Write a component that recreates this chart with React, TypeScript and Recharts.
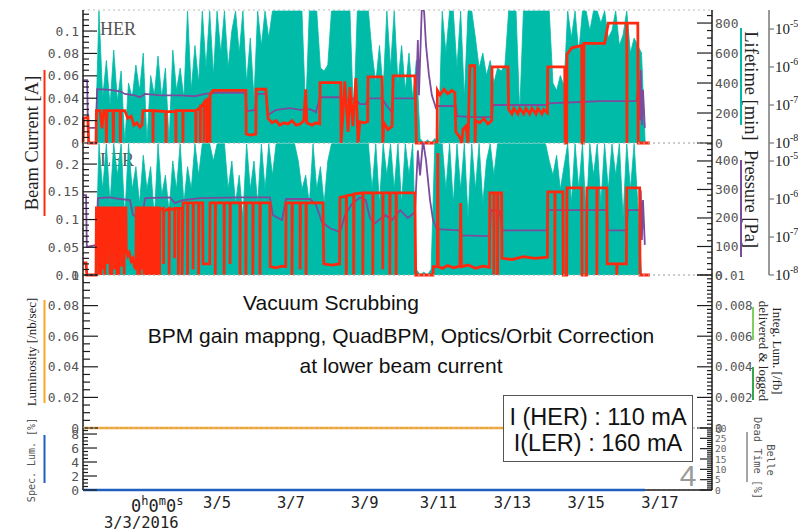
import React from 'react';
import { ComposedChart, Line, Area, XAxis, YAxis, CartesianGrid } from 'recharts';

const TEAL = '#00BBA7';
const PURPLE = '#7B4C9E';
const RED = '#FF2A0E';
const ORANGE = '#F5A62A';
const BLUE = '#1F5FBE';
const GREEN_LIGHT = '#7FD05C';
const GREEN_DARK = '#36A64F';
const INK = '#1c1c1c';
const GRID = '#bcbcbc';

// time axis: days counted from 2016-03-03 00:00
const DAY_DOMAIN = [-1.633, 15.41];
const DAY_MAJOR = [0, 2, 4, 6, 8, 10, 12, 14];
const DAY_LABELS = ['0h0m0s', '3/5', '3/7', '3/9', '3/11', '3/13', '3/15', '3/17'];
const START_DATE = '3/3/2016';

const range = (lo: number, hi: number, step: number) =>
  Array.from({ length: Math.round((hi - lo) / step) + 1 }, (_, i) => +(lo + i * step).toFixed(6));

const DAY_MINOR = range(-1.5, 15, 0.5);

// axis ticks (major = labelled)
const HER_CUR_MAJOR = [0, 0.02, 0.04, 0.06, 0.08, 0.1];
const HER_LIFE_MAJOR = [0, 200, 400, 600, 800];
const LER_CUR_MAJOR = [0, 0.05, 0.1, 0.15, 0.2];
const LER_LIFE_MAJOR = [0, 100, 200, 300, 400];
const PRESSURE_TICKS = [1e-8, 1e-7, 1e-6, 1e-5];
const LUM_MAJOR = [0, 0.02, 0.04, 0.06, 0.08, 0.1];
const INTEG_MAJOR = [0, 0.002, 0.004, 0.006, 0.008, 0.01];
const SPEC_MAJOR = [0, 2, 4, 6, 8];
const DEAD_MAJOR = [0, 5, 10, 15, 20, 25, 30];

// beam lifetime [min], sampled every 0.1 day starting at day -1.3
const LIFE_T0 = -1.3;
const LIFE_DT = 0.1;
const HER_LIFETIME = [
  0, 880, 300, 550, 250, 620, 280, 480, 0, 400,
  300, 520, 350, 600, 0, 450, 320, 580, 300, 500,
  0, 620, 350, 500, 300, 880, 350, 650, 400, 880,
  500, 880, 450, 880, 600, 880, 500, 750, 880, 600,
  880, 400, 700, 300, 880, 650, 880, 700, 880, 880,
  880, 880, 880, 880, 880, 880, 880, 200, 880, 880,
  880, 500, 480, 520, 880, 880, 880, 880, 880, 880,
  150, 880, 880, 880, 880, 600, 400, 650, 350, 880,
  500, 880, 400, 650, 350, 600, 300, 550, 30, 0,
  20, 0, 30, 0, 880, 600, 880, 880, 500, 880,
  300, 880, 880, 700, 500, 600, 450, 550, 400, 500,
  480, 520, 880, 880, 880, 200, 880, 880, 880, 880,
  880, 880, 880, 880, 400, 350, 450, 380, 880, 700,
  880, 600, 880, 880, 750, 880, 880, 800, 880, 700,
  750, 880, 650, 720, 880, 600, 700, 650, 600, 0,
  0,
];
const LER_LIFETIME = [
  0, 460, 300, 460, 250, 460, 350, 460, 200, 460,
  300, 380, 250, 420, 300, 380, 200, 460, 280, 350,
  220, 400, 300, 460, 250, 380, 300, 460, 350, 460,
  460, 460, 400, 460, 460, 460, 300, 400, 250, 350,
  200, 460, 300, 400, 250, 460, 300, 460, 350, 460,
  460, 460, 460, 460, 460, 400, 300, 350, 250, 460,
  300, 380, 250, 400, 460, 460, 460, 460, 460, 460,
  460, 460, 460, 460, 460, 300, 460, 250, 460, 350,
  460, 300, 460, 250, 460, 350, 460, 20, 0, 10,
  0, 20, 460, 460, 460, 300, 460, 250, 460, 300,
  460, 200, 460, 300, 460, 250, 400, 460, 350, 460,
  460, 460, 460, 460, 460, 460, 460, 460, 460, 460,
  460, 460, 460, 400, 350, 420, 300, 380, 460, 250,
  460, 300, 460, 200, 460, 350, 460, 250, 460, 300,
  460, 350, 460, 200, 460, 300, 460, 250, 0, 0,
  0,
];

// beam current [A]: [day, value]
const HER_CURRENT = [
  [-1.63, 0], [-1.62, 0.022], [-1.5, 0.023], [-1.48, 0], [-1.28, 0], [-1.27, 0.029], [-1.17, 0.029],
  [-1.12, 0.013], [-1.07, 0.029], [-1.01, 0.029], [-1.0, 0], [-0.98, 0.029], [-0.82, 0.029], [-0.81, 0],
  [-0.8, 0.029], [-0.63, 0.029], [-0.62, 0], [-0.61, 0.029], [-0.5, 0.029], [-0.42, 0.022], [-0.33, 0.024],
  [-0.25, 0.016], [-0.17, 0.018], [-0.09, 0.014], [-0.035, 0.016], [-0.01, 0.029], [0.26, 0.029], [0.265, 0],
  [0.27, 0.029], [0.61, 0.028], [0.615, 0], [0.62, 0.028], [0.88, 0.028], [0.885, 0], [0.89, 0.029],
  [1.07, 0.029], [1.075, 0], [1.08, 0.029], [1.42, 0.029], [1.425, 0], [1.43, 0.029], [1.48, 0.03],
  [1.54, 0.032], [1.545, 0], [1.55, 0.033], [1.59, 0.033], [1.645, 0.036], [1.65, 0], [1.655, 0.036],
  [1.73, 0.038], [1.735, 0], [1.74, 0.039], [1.8, 0.041], [1.805, 0], [1.81, 0.043], [1.85, 0.045],
  [1.89, 0.047], [2.78, 0.047], [2.79, 0.008], [2.9, 0.007], [3.05, 0.008], [3.06, 0.048], [3.32, 0.048],
  [3.38, 0.022], [3.49, 0.018], [3.6, 0.02], [3.7, 0.016], [3.81, 0.018], [3.92, 0.017], [4.03, 0.02],
  [4.14, 0.016], [4.25, 0.017], [4.35, 0.02], [4.4, 0.048], [4.43, 0.018], [4.57, 0.016], [4.68, 0.018],
  [4.78, 0.017], [4.79, 0.054], [5.35, 0.054], [5.36, 0], [5.4, 0.02], [5.46, 0.055], [5.55, 0.01],
  [5.6, 0.05], [5.68, 0.015], [5.76, 0.058], [5.82, 0], [5.87, 0.019], [5.98, 0.018], [6.08, 0.019],
  [6.09, 0.059], [6.47, 0.059], [6.49, 0], [6.52, 0.018], [6.63, 0.012], [6.74, 0.015], [6.77, 0.06],
  [7.36, 0.06], [7.4, 0], [7.96, 0], [7.97, 0.047], [8.04, 0.043], [8.15, 0.048], [8.25, 0.044],
  [8.36, 0.047], [8.44, 0.045], [8.47, 0.01], [8.58, 0.005], [8.63, 0], [8.66, 0.012], [8.74, 0.015],
  [8.8, 0], [8.85, 0.069], [8.98, 0.069], [8.99, 0], [9.01, 0.02], [9.12, 0.018], [9.23, 0.022],
  [9.34, 0.017], [9.44, 0.02], [9.45, 0.068], [9.88, 0.068], [9.9, 0.03], [9.99, 0.026], [10.04, 0.031],
  [10.15, 0.026], [10.2, 0.031], [10.31, 0.026], [10.37, 0.031], [10.47, 0.026], [10.53, 0.031],
  [10.64, 0.026], [10.69, 0.031], [10.8, 0.026], [10.85, 0.03], [10.95, 0.027], [10.96, 0.068],
  [11.42, 0.068], [11.43, 0], [11.47, 0], [11.48, 0.079], [11.61, 0.085], [11.88, 0.087], [11.89, 0],
  [11.93, 0], [11.94, 0.089], [12.5, 0.089], [12.6, 0.107], [13.1, 0.107], [13.105, 0], [13.11, 0.107],
  [13.4, 0.107], [13.41, 0], [13.73, 0],
];

const LER_CURRENT = [
  [-1.63, 0.022], [-1.55, 0.022], [-1.53, 0], [-1.28, 0], [-1.27, 0.121],
  [-1.2, 0.121], [-1.2, 0], [-1.19, 0.121], [-1.15, 0.121], [-1.15, 0], [-1.14, 0.121],
  [-1.09, 0.121], [-1.09, 0.01], [-1.08, 0.121], [-1.04, 0.121], [-1.04, 0], [-1.03, 0.121],
  [-0.98, 0.121], [-0.98, 0.02], [-0.97, 0.121], [-0.9, 0.121], [-0.9, 0], [-0.89, 0.121],
  [-0.85, 0.121], [-0.85, 0], [-0.84, 0.121], [-0.77, 0.121], [-0.77, 0.01], [-0.76, 0.121],
  [-0.71, 0.121], [-0.71, 0], [-0.7, 0.121], [-0.66, 0.121], [-0.66, 0], [-0.65, 0.121],
  [-0.58, 0.121], [-0.58, 0.015], [-0.57, 0.121], [-0.52, 0.121], [-0.52, 0], [-0.51, 0.121],
  [-0.47, 0.121], [-0.46, 0.045], [-0.42, 0.035], [-0.38, 0.04], [-0.33, 0.025], [-0.28, 0.03],
  [-0.24, 0.015], [-0.2, 0.01], [-0.19, 0.121], [-0.15, 0.121], [-0.15, 0], [-0.14, 0.121],
  [-0.09, 0.121], [-0.09, 0], [-0.08, 0.121], [-0.04, 0.121], [-0.04, 0.01], [-0.03, 0.121],
  [0.02, 0.121], [0.02, 0], [0.03, 0.121], [0.08, 0.121], [0.08, 0], [0.09, 0.121],
  [0.14, 0.121], [0.14, 0], [0.15, 0.121], [0.2, 0.121], [0.2, 0], [0.21, 0.121],
  [0.26, 0.121], [0.26, 0], [0.27, 0.121], [0.32, 0.121], [0.32, 0], [0.33, 0.121],
  [0.38, 0.121], [0.38, 0], [0.39, 0.121], [0.44, 0.121], [0.44, 0], [0.45, 0.118],
  [0.55, 0.12], [0.55, 0.02], [0.56, 0.115], [0.7, 0.12], [0.7, 0], [0.71, 0.118],
  [0.85, 0.12], [0.85, 0.03], [0.86, 0.12], [0.95, 0.12], [0.95, 0], [0.96, 0.12],
  [1.05, 0.12], [1.05, 0], [1.08, 0.13], [1.2, 0.13], [1.2, 0], [1.21, 0.13],
  [1.35, 0.13], [1.35, 0.01], [1.36, 0.13], [1.5, 0.13], [1.5, 0], [1.51, 0.13],
  [1.61, 0.13], [1.62, 0.02], [1.8, 0.02], [1.81, 0.13], [1.95, 0.13], [1.95, 0], [1.96, 0.13],
  [2.19, 0.13], [2.19, 0], [2.2, 0.13], [2.35, 0.13], [2.35, 0.02], [2.36, 0.13],
  [2.62, 0.13], [2.62, 0], [2.63, 0.13], [2.78, 0.13], [2.78, 0], [2.79, 0.13],
  [2.97, 0.13], [2.97, 0], [2.98, 0.13], [3.16, 0.13], [3.16, 0], [3.17, 0.13],
  [3.43, 0.13], [3.44, 0.015], [3.6, 0.013], [3.75, 0.016], [3.86, 0.015], [3.87, 0.13],
  [4.03, 0.13], [4.03, 0], [4.04, 0.13], [4.25, 0.13], [4.25, 0.01], [4.26, 0.13],
  [4.41, 0.13], [4.41, 0], [4.42, 0.13], [4.87, 0.13], [4.89, 0.02], [5.1, 0.018], [5.32, 0.02],
  [5.33, 0.14], [5.5, 0.142], [5.5, 0], [5.51, 0.143], [5.7, 0.145], [5.7, 0], [5.71, 0.146],
  [5.95, 0.148], [5.95, 0], [5.96, 0.148], [6.22, 0.148], [6.22, 0], [6.23, 0.148],
  [6.49, 0.148], [6.49, 0.01], [6.5, 0.148], [6.68, 0.148], [6.68, 0], [6.69, 0.148],
  [6.85, 0.148], [6.85, 0], [6.86, 0.148], [7.36, 0.148], [7.38, 0], [7.85, 0], [7.86, 0.015],
  [7.97, 0.015], [7.98, 0.22], [7.99, 0.015], [8.1, 0.012], [8.25, 0.017], [8.4, 0.013],
  [8.58, 0.016], [8.6, 0.13], [8.62, 0.015], [8.8, 0.018], [9.0, 0.012], [9.2, 0.016],
  [9.38, 0.014], [9.39, 0.148], [9.5, 0.148], [9.5, 0], [9.51, 0.148], [9.6, 0.148], [9.6, 0],
  [9.61, 0.148], [9.71, 0.148], [9.72, 0.03], [10.0, 0.028], [10.3, 0.033], [10.6, 0.03],
  [10.95, 0.032], [10.96, 0.15], [11.15, 0.15], [11.15, 0], [11.16, 0.15], [11.37, 0.15],
  [11.38, 0], [11.47, 0], [11.48, 0.157], [11.88, 0.157], [11.89, 0], [12.01, 0], [12.02, 0.157],
  [12.29, 0.157], [12.29, 0], [12.3, 0.157], [12.56, 0.157], [12.57, 0.02], [12.83, 0.02],
  [12.83, 0], [12.84, 0.02], [13.09, 0.02], [13.1, 0.157], [13.45, 0.157], [13.46, 0], [13.73, 0],
];

// vacuum pressure [Pa]: [day, value]
const HER_PRESSURE = [
  [-1.63, 4.5e-7], [-1.52, 4.5e-7], [-1.5, 2.5e-8], [-1.28, 2.5e-8], [-1.25, 2.6e-7], [-0.9, 2.5e-7],
  [-0.63, 2.3e-7], [-0.5, 1.95e-7], [-0.23, 1.8e-7], [-0.09, 1.6e-7], [0.05, 1.95e-7], [0.45, 1.8e-7],
  [0.99, 1.8e-7], [1.4, 1.7e-7], [1.67, 1.95e-7], [1.94, 2.1e-7], [2.76, 2.1e-7], [2.81, 6.9e-8],
  [3.03, 7.4e-8], [3.08, 1.95e-7], [3.32, 1.95e-7], [3.38, 5.5e-8], [3.6, 7.4e-8], [3.98, 8.3e-8],
  [4.25, 7.4e-8], [4.52, 7.8e-8], [4.68, 6.5e-8], [4.79, 1.6e-7], [5.33, 1.6e-7], [5.47, 1.35e-7],
  [5.74, 1.5e-7], [5.87, 1.06e-7], [6.03, 1.06e-7], [6.09, 1.5e-7], [6.47, 1.5e-7], [6.58, 1.0e-7],
  [6.74, 6.5e-8], [6.77, 1.5e-7], [7.33, 1.5e-7], [7.39, 1.35e-7], [7.44, 5.1e-6], [7.47, 1.8e-7],
  [7.55, 4.3e-5], [7.61, 2.8e-5], [7.66, 3.8e-6], [7.74, 6.2e-7], [7.82, 1.8e-7], [7.93, 8.3e-8],
  [7.98, 9.4e-8], [8.47, 9.4e-8], [8.5, 5.1e-8], [8.99, 4.8e-8], [9.45, 4.8e-8], [9.47, 1.0e-7],
  [10.93, 1.0e-7], [10.96, 1.1e-7], [11.83, 1.2e-7], [12.37, 1.27e-7], [13.37, 1.27e-7],
  [13.43, 4.5e-7], [13.46, 4.0e-8], [13.48, 8.3e-7], [13.51, 3.0e-8], [13.54, 2.5e-7], [13.59, 2.5e-8],
];

const LER_PRESSURE = [
  [-1.63, 1.27e-6], [-1.55, 1.27e-6], [-1.53, 5.5e-8], [-1.25, 6.2e-8], [-1.23, 1.06e-6], [-0.9, 1.1e-6],
  [-0.63, 1.0e-6], [-0.36, 9.4e-7], [-0.28, 3.8e-7], [-0.14, 3.16e-7], [-0.01, 4.5e-7], [0.05, 1.06e-6],
  [0.72, 1.1e-6], [0.86, 7.8e-7], [1.08, 9.4e-7], [1.54, 1.06e-6], [2.62, 1.1e-6], [3.43, 1.1e-6],
  [3.51, 3.8e-7], [3.76, 2.8e-7], [3.87, 1.0e-6], [4.52, 1.0e-6], [4.68, 7.0e-7], [4.84, 2.5e-7],
  [5.06, 1.7e-7], [5.33, 1.35e-7], [5.47, 3.8e-7], [5.65, 7.4e-7], [5.87, 1.1e-6], [6.03, 9.4e-7],
  [6.14, 3.16e-7], [6.28, 2.3e-7], [6.55, 3.8e-7], [6.74, 2.8e-7], [6.96, 5.1e-7], [7.17, 3.16e-7],
  [7.36, 4.5e-7], [7.44, 1.9e-5], [7.5, 4.2e-6], [7.58, 3.5e-5], [7.66, 1.06e-5], [7.77, 9.4e-7],
  [7.85, 2.8e-7], [7.96, 1.6e-7], [8.58, 1.5e-7], [8.63, 1.1e-7], [9.39, 1.06e-7], [9.42, 5.1e-7],
  [9.66, 4.8e-7], [9.72, 1.5e-7], [10.93, 1.5e-7], [10.96, 5.1e-7], [12.56, 5.1e-7], [12.59, 1.5e-7],
  [13.1, 1.5e-7], [13.13, 5.1e-7], [13.45, 5.1e-7], [13.48, 1.7e-6], [13.51, 8.3e-8], [13.54, 9.4e-7],
  [13.59, 6.2e-8],
];

// luminosity-related readings stay at zero during scrubbing
const LUMINOSITY = [[-1.63, 0], [13.59, 0]];
const INTEG_DELIVERED = [[-1.63, 0], [13.59, 0]];
const INTEG_LOGGED = [[-1.63, 0], [13.59, 0]];
const SPEC_LUMINOSITY = [[-1.63, 0], [13.59, 0]];
const DEAD_TIME = [[-1.63, 0], [13.59, 0]];

const toRows = (pairs: number[][]) => pairs.map(([t, v]) => ({ t, v }));
const sampled = (values: number[]) => values.map((v, i) => ({ t: +(LIFE_T0 + i * LIFE_DT).toFixed(3), v }));

const MONO = "'DejaVu Sans Mono', monospace";
const SERIF = "'Liberation Serif', 'DejaVu Serif', serif";
const SANS = "'Liberation Sans', Arial, sans-serif";
const TICK_TEXT = { fontFamily: MONO, fontSize: 13, fill: '#555' };
const AXIS_LINE = { stroke: INK, strokeWidth: 1.5 };
const PAD = 8; // room around each panel so edge labels are not clipped

const isIn = (list: number[], v: number) => list.some((m) => Math.abs(m - v) < 1e-9);
const fmt = (v: number) => (v === 0 ? '0' : String(+v.toFixed(5)));

const leftTicks = (majors: number[], majorLen: number, minorLen: number, style: any = TICK_TEXT) => (p: any) => {
  const v = p.payload.value;
  const major = isIn(majors, v);
  const edge = p.x + 4;
  return (
    <g>
      <line x1={edge} x2={edge + (major ? majorLen : minorLen)} y1={p.y} y2={p.y} stroke={INK} strokeWidth={1.2} />
      {major && (
        <text x={edge - 4} y={p.y + 4.5} textAnchor="end" style={style}>
          {fmt(v)}
        </text>
      )}
    </g>
  );
};

const rightTicks = (majors: number[], majorLen: number, minorLen: number, style: any = TICK_TEXT, dy = 4.5) => (p: any) => {
  const v = p.payload.value;
  const major = isIn(majors, v);
  const edge = p.x - 3;
  return (
    <g>
      <line x1={edge} x2={edge - (major ? majorLen : minorLen)} y1={p.y} y2={p.y} stroke={INK} strokeWidth={1.2} />
      {major && (
        <text x={edge + 3} y={p.y + dy} textAnchor="start" style={style}>
          {fmt(v)}
        </text>
      )}
    </g>
  );
};

const logTicks = (p: any) => {
  const exp = Math.round(Math.log10(p.payload.value));
  return (
    <g>
      <line x1={p.x} x2={p.x + 5} y1={p.y} y2={p.y} stroke="#777" strokeWidth={1.2} />
      <text x={p.x + 6} y={p.y + 5} style={{ fontFamily: SERIF, fontSize: 15, fill: '#222' }}>
        10
        <tspan dy={-7} fontSize={10}>
          {exp}
        </tspan>
      </text>
    </g>
  );
};

// ticks along a panel's bottom edge, pointing up into the panel
const upTicks = (p: any) => {
  const major = isIn(DAY_MAJOR, p.payload.value);
  return <line x1={p.x} x2={p.x} y1={p.y} y2={p.y - (major ? 9 : 4)} stroke={INK} strokeWidth={1.3} />;
};
// ticks along a panel's top edge, pointing down into the panel
const downTicks = (p: any) => {
  const major = isIn(DAY_MAJOR, p.payload.value);
  return <line x1={p.x} x2={p.x} y1={p.y} y2={p.y + (major ? 8 : 4)} stroke={INK} strokeWidth={1.3} />;
};

const superscripted = (label: string) =>
  label.split('').map((ch, i) =>
    /\d/.test(ch) ? (
      <tspan key={i} dy={i > 0 ? 7 : 0} fontSize={17}>
        {ch}
      </tspan>
    ) : (
      <tspan key={i} dy={-7} fontSize={12}>
        {ch}
      </tspan>
    ),
  );

const dateTicks = (p: any) => {
  const v = p.payload.value;
  const k = DAY_MAJOR.findIndex((d) => Math.abs(d - v) < 1e-9);
  const style = { fontFamily: MONO, fontSize: 15.5, fill: '#222' };
  if (k < 0) return <g />;
  if (k === 0) {
    return (
      <g>
        <text x={p.x + 14} y={p.y + 22} textAnchor="middle" style={style}>
          {superscripted(DAY_LABELS[0])}
        </text>
        <text x={p.x - 2} y={p.y + 38} textAnchor="middle" style={style}>
          {START_DATE}
        </text>
      </g>
    );
  }
  return (
    <text x={p.x} y={p.y + 18} textAnchor="middle" style={style}>
      {DAY_LABELS[k]}
    </text>
  );
};

const timeAxisProps = {
  type: 'number' as const,
  dataKey: 't',
  domain: DAY_DOMAIN,
  ticks: DAY_MINOR,
  interval: 0,
  tickSize: 0,
  tickMargin: 0,
  tickLine: false,
  axisLine: AXIS_LINE,
};

const flatLine = (data: number[][], yAxisId: string, color: string, width: number, z?: number) => (
  <Line
    xAxisId="b"
    yAxisId={yAxisId}
    data={toRows(data)}
    dataKey="v"
    stroke={color}
    strokeWidth={width}
    dot={false}
    activeDot={false}
    isAnimationActive={false}
    {...(z ? { zIndex: z } : {})}
  />
);

// hidden axes that only carry the dotted grid positions
const gridXAxis = <XAxis xAxisId="zgrid" type="number" dataKey="t" domain={DAY_DOMAIN} ticks={DAY_MAJOR} interval={0} hide />;

function RingPanel(props: any) {
  const { top, height, lifetime, pressure, current, curDomain, curTicks, curMajor, lifeDomain, lifeTicks, lifeMajor, pDomain } = props;
  return (
    <div style={{ position: 'absolute', left: 0, top: top - PAD, width: 798, height: height + 2 * PAD }}>
      <ComposedChart width={798} height={height + 2 * PAD} margin={{ top: PAD, right: 0, bottom: PAD, left: 0 }}>
        <CartesianGrid xAxisId="zgrid" yAxisId="zgrid" stroke={GRID} strokeDasharray="2 3" />
        {gridXAxis}
        <YAxis yAxisId="zgrid" type="number" domain={curDomain} ticks={curMajor.filter((v: number) => v > 0)} interval={0} hide />
        <XAxis xAxisId="b" orientation="bottom" height={0} tick={upTicks} {...timeAxisProps} />
        <XAxis xAxisId="t" orientation="top" height={0} tick={downTicks} {...timeAxisProps} />
        <YAxis
          yAxisId="cur"
          orientation="left"
          width={83}
          type="number"
          domain={curDomain}
          ticks={curTicks}
          interval={0}
          tickSize={0}
          tickMargin={4}
          tickLine={false}
          axisLine={AXIS_LINE}
          tick={leftTicks(curMajor, 14, 6)}
        />
        <YAxis
          yAxisId="life"
          orientation="right"
          width={57}
          type="number"
          domain={lifeDomain}
          ticks={lifeTicks}
          interval={0}
          tickSize={0}
          tickMargin={3}
          tickLine={false}
          axisLine={AXIS_LINE}
          tick={rightTicks(lifeMajor, 15, 5)}
        />
        <YAxis
          yAxisId="p"
          orientation="right"
          width={29}
          type="number"
          scale="log"
          domain={pDomain}
          allowDataOverflow
          ticks={PRESSURE_TICKS}
          interval={0}
          tickSize={0}
          tickMargin={0}
          tickLine={false}
          axisLine={{ stroke: '#777', strokeWidth: 1.5 }}
          tick={logTicks}
        />
        <Area
          xAxisId="b"
          yAxisId="life"
          data={lifetime}
          dataKey="v"
          type="linear"
          stroke={TEAL}
          strokeWidth={0.8}
          fill={TEAL}
          fillOpacity={1}
          dot={false}
          activeDot={false}
          isAnimationActive={false}
        />
        <Line
          xAxisId="b"
          yAxisId="p"
          data={pressure}
          dataKey="v"
          type="linear"
          stroke={PURPLE}
          strokeWidth={1.8}
          dot={false}
          activeDot={false}
          isAnimationActive={false}
        />
        <Line
          xAxisId="b"
          yAxisId="cur"
          data={current}
          dataKey="v"
          type="linear"
          stroke={RED}
          strokeWidth={2.8}
          dot={false}
          activeDot={false}
          isAnimationActive={false}
        />
      </ComposedChart>
    </div>
  );
}

function LuminosityPanel() {
  const h = 153 + 2 * PAD;
  return (
    <div style={{ position: 'absolute', left: 0, top: 275 - PAD, width: 798, height: h }}>
      <ComposedChart width={798} height={h} margin={{ top: PAD, right: 0, bottom: PAD, left: 0 }}>
        <CartesianGrid xAxisId="zgrid" yAxisId="zgrid" stroke={GRID} strokeDasharray="2 3" />
        {gridXAxis}
        <YAxis yAxisId="zgrid" type="number" domain={[0, 0.1]} ticks={[0.02, 0.04, 0.06, 0.08]} interval={0} hide />
        <XAxis xAxisId="b" orientation="bottom" height={0} tick={upTicks} {...timeAxisProps} />
        <XAxis xAxisId="t" orientation="top" height={0} tick={downTicks} {...timeAxisProps} />
        <YAxis
          yAxisId="lum"
          orientation="left"
          width={83}
          type="number"
          domain={[0, 0.1]}
          ticks={range(0, 0.1, 0.005)}
          interval={0}
          tickSize={0}
          tickMargin={4}
          tickLine={false}
          axisLine={AXIS_LINE}
          tick={leftTicks(LUM_MAJOR, 15, 7)}
        />
        <YAxis
          yAxisId="integ"
          orientation="right"
          width={86}
          type="number"
          domain={[0, 0.01]}
          ticks={range(0, 0.01, 0.00025)}
          interval={0}
          tickSize={0}
          tickMargin={3}
          tickLine={false}
          axisLine={AXIS_LINE}
          tick={rightTicks(INTEG_MAJOR, 15, 5, { ...TICK_TEXT, fontSize: 12.5 })}
        />
        {flatLine(INTEG_DELIVERED, 'integ', GREEN_LIGHT, 1.5)}
        {flatLine(INTEG_LOGGED, 'integ', GREEN_DARK, 1.5)}
        {flatLine(LUMINOSITY, 'lum', ORANGE, 2.5, 600)}
      </ComposedChart>
    </div>
  );
}

function SpecPanel() {
  const h = PAD + 62 + 42;
  return (
    <div style={{ position: 'absolute', left: 0, top: 428 - PAD, width: 798, height: h }}>
      <ComposedChart width={798} height={h} margin={{ top: PAD, right: 0, bottom: 0, left: 0 }}>
        <CartesianGrid xAxisId="zgrid" yAxisId="zgrid" stroke={GRID} strokeDasharray="2 3" />
        {gridXAxis}
        <YAxis yAxisId="zgrid" type="number" domain={[0, 8.86]} ticks={[2, 4, 6, 8]} interval={0} hide />
        <XAxis xAxisId="b" orientation="bottom" height={42} tick={dateTicks} {...timeAxisProps} />
        <XAxis xAxisId="t" orientation="top" height={0} tick={downTicks} {...timeAxisProps} />
        <YAxis
          yAxisId="spec"
          orientation="left"
          width={83}
          type="number"
          domain={[0, 8.86]}
          ticks={range(0, 8.5, 0.5)}
          interval={0}
          tickSize={0}
          tickMargin={4}
          tickLine={false}
          axisLine={AXIS_LINE}
          tick={leftTicks(SPEC_MAJOR, 14, 5)}
        />
        <YAxis
          yAxisId="dead"
          orientation="right"
          width={86}
          type="number"
          domain={[0, 30]}
          ticks={range(0, 30, 1)}
          interval={0}
          tickSize={0}
          tickMargin={3}
          tickLine={false}
          axisLine={AXIS_LINE}
          tick={rightTicks(DEAD_MAJOR, 12, 5, { fontFamily: MONO, fontSize: 9.5, fill: '#666' }, 3.5)}
        />
        {flatLine(DEAD_TIME, 'dead', '#888', 1.5)}
        {flatLine(SPEC_LUMINOSITY, 'spec', BLUE, 2.5, 600)}
      </ComposedChart>
    </div>
  );
}

const NOTE = { fontFamily: SANS, fontSize: 21, fill: '#111' };
const BOX_TEXT = { fontFamily: SANS, fontSize: 23.5, fill: '#111' };

export default function App() {
  return (
    <div style={{ position: 'absolute', left: 0, top: 0, width: 798, height: 532, background: '#fff', overflow: 'hidden' }}>
      {/* ring labels sit underneath the data */}
      <svg width={798} height={532} style={{ position: 'absolute', left: 0, top: 0 }}>
        <text x={100} y={35} style={{ fontFamily: SERIF, fontSize: 18, fill: '#555' }}>HER</text>
        <text x={100} y={166} style={{ fontFamily: SERIF, fontSize: 18, fill: '#555' }}>LER</text>
      </svg>

      <RingPanel
        top={10}
        height={133}
        lifetime={sampled(HER_LIFETIME)}
        pressure={toRows(HER_PRESSURE)}
        current={toRows(HER_CURRENT)}
        curDomain={[0, 0.1188]}
        curTicks={range(0, 0.115, 0.005)}
        curMajor={HER_CUR_MAJOR}
        lifeDomain={[0, 887]}
        lifeTicks={range(0, 850, 50)}
        lifeMajor={HER_LIFE_MAJOR}
        pDomain={[1e-8, 3.16e-5]}
      />
      <RingPanel
        top={143}
        height={132}
        lifetime={sampled(LER_LIFETIME)}
        pressure={toRows(LER_PRESSURE)}
        current={toRows(LER_CURRENT)}
        curDomain={[0, 0.238]}
        curTicks={range(0, 0.23, 0.01)}
        curMajor={LER_CUR_MAJOR}
        lifeDomain={[0, 463]}
        lifeTicks={range(0, 460, 20)}
        lifeMajor={LER_LIFE_MAJOR}
        pDomain={[1e-8, 2.98e-5]}
      />
      <LuminosityPanel />
      <SpecPanel />

      <svg width={798} height={532} style={{ position: 'absolute', left: 0, top: 0, pointerEvents: 'none' }}>
        {/* annotations */}
        <rect x={98} y={313} width={598} height={69} fill="#fff" />
        <rect x={240} y={289} width={182} height={24} fill="#fff" />
        <text x={331} y={310} textAnchor="middle" style={NOTE}>Vacuum Scrubbing</text>
        <text x={401} y={343} textAnchor="middle" style={NOTE}>BPM gain mappng, QuadBPM, Optics/Orbit Correction</text>
        <text x={401} y={373} textAnchor="middle" style={NOTE}>at lower beam current</text>
        <rect x={503.5} y={395.5} width={189} height={66} fill="#fff" stroke="#555" strokeWidth={1} />
        <text x={598} y={425} textAnchor="middle" style={BOX_TEXT}>I (HER) : 110 mA</text>
        <text x={598} y={451} textAnchor="middle" style={BOX_TEXT}>I(LER) : 160 mA</text>
        <text x={688} y={486} textAnchor="middle" style={{ fontFamily: SANS, fontSize: 30, fill: '#9a9a9a' }}>4</text>

        {/* left axis titles */}
        <text transform="translate(38,143) rotate(-90)" textAnchor="middle" style={{ fontFamily: SERIF, fontSize: 18.5, fill: '#222' }}>
          Beam Current [A]
        </text>
        <line x1={44.5} x2={44.5} y1={70} y2={216} stroke={RED} strokeWidth={2} />
        <text transform="translate(36,352) rotate(-90)" textAnchor="middle" style={{ fontFamily: SERIF, fontSize: 13, fill: '#222' }}>
          Luminosity [/nb/sec]
        </text>
        <line x1={44.5} x2={44.5} y1={300} y2={403} stroke={ORANGE} strokeWidth={2} />
        <text transform="translate(35,460) rotate(-90)" textAnchor="middle" style={{ fontFamily: MONO, fontSize: 10, fill: '#555' }}>
          Spec. Lum. [%]
        </text>
        <line x1={44.5} x2={44.5} y1={435} y2={483} stroke={BLUE} strokeWidth={2} />

        {/* right axis titles */}
        <text transform="translate(745,86) rotate(90)" textAnchor="middle" style={{ fontFamily: SERIF, fontSize: 18.5, fill: '#222' }}>
          Lifetime [min]
        </text>
        <line x1={741} x2={741} y1={28} y2={125} stroke={TEAL} strokeWidth={2} />
        <text transform="translate(745,199) rotate(90)" textAnchor="middle" style={{ fontFamily: SERIF, fontSize: 18.5, fill: '#222' }}>
          Pressure [Pa]
        </text>
        <line x1={741} x2={741} y1={160} y2={257} stroke={PURPLE} strokeWidth={2} />
        <text transform="translate(773,351) rotate(90)" textAnchor="middle" style={{ fontFamily: SERIF, fontSize: 13, fill: '#222' }}>
          Integ. Lum. [/fb]
        </text>
        <text transform="translate(759,351) rotate(90)" textAnchor="middle" style={{ fontFamily: SERIF, fontSize: 13, fill: '#222' }}>
          delivered &amp; logged
        </text>
        <line x1={753} x2={753} y1={307} y2={340} stroke={GREEN_LIGHT} strokeWidth={2} />
        <line x1={753} x2={753} y1={367} y2={400} stroke={GREEN_DARK} strokeWidth={2} />
        <text transform="translate(767,460) rotate(90)" textAnchor="middle" style={{ fontFamily: MONO, fontSize: 10.5, fill: '#555' }}>
          Belle
        </text>
        <text transform="translate(754,458) rotate(90)" textAnchor="middle" style={{ fontFamily: MONO, fontSize: 10.5, fill: '#555' }}>
          Dead Time [%]
        </text>
        <line x1={747} x2={747} y1={432} y2={482} stroke="#888" strokeWidth={1.5} />
      </svg>
    </div>
  );
}
